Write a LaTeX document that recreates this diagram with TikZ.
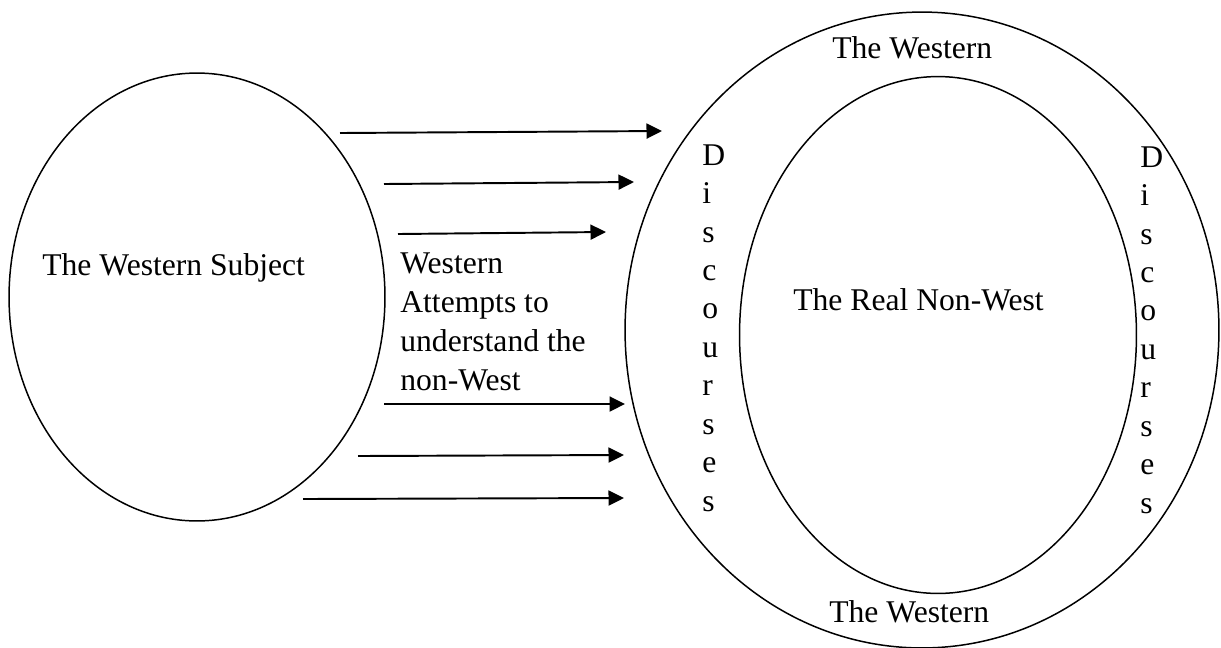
\documentclass[tikz,border=0pt]{standalone}
\usepackage{fontspec}
\setmainfont{Liberation Serif}
\usetikzlibrary{shapes.geometric,arrows.meta}

\tikzset{
  ring/.style={draw, ellipse, line width=0.85pt, inner sep=0pt},
  label text/.style={inner sep=0pt, font=\fontsize{18}{22.3}\selectfont},
  column text/.style={label text, align=left, anchor=north west, font=\fontsize{18}{21.9}\selectfont},
  push/.style={line width=1.1pt, -{Triangle[length=0.31cm, width=0.3cm]}}
}

\begin{document}
\begin{tikzpicture}[x=0.02cm, y=-0.02cm]
                \useasboundingbox (0,0) rectangle (1221,647);

                % Subject
                \node[ring, minimum width=7.52cm, minimum height=8.96cm] (subject) at (197,297) {};
                \node[label text, anchor=base west] (subjectText) at (42,275) {The Western Subject};

                % Discourses and the non-West
                \node[ring, minimum width=11.88cm, minimum height=12.72cm] (discourses) at (922,330) {};
                \node[ring, minimum width=7.94cm, minimum height=10.34cm] (nonwest) at (938,335) {};
                \node[label text, anchor=base west] (nonwestText) at (793,310) {The Real Non-West};

                \node[label text, anchor=base west] (westTop) at (832,58) {The Western};
                \node[label text, anchor=base west] (westBottom) at (829,622) {The Western};

                \node[column text] (discLeft) at (702,144) {D\\i\\s\\c\\o\\u\\r\\s\\e\\s};
                \node[column text] (discRight) at (1140,146) {D\\i\\s\\c\\o\\u\\r\\s\\e\\s};

                % Attempts
                \node[label text, align=left, anchor=north west] (attempts) at (400,252)
                    {Western\\Attempts to\\understand the\\non-West};

                \foreach \i/\xa/\ya/\xb/\yb in {1/340/133/662/131, 2/384/184/634/182, 3/398/234/606/232,
                                                4/384/404/625/404, 5/358/456/624/455, 6/303/499/624/498} {
                    \coordinate (from\i) at (\xa,\ya);
                    \coordinate (to\i) at (\xb,\yb);
                    \draw[push] (from\i) -- (to\i);
                }

\end{tikzpicture}
\end{document}
